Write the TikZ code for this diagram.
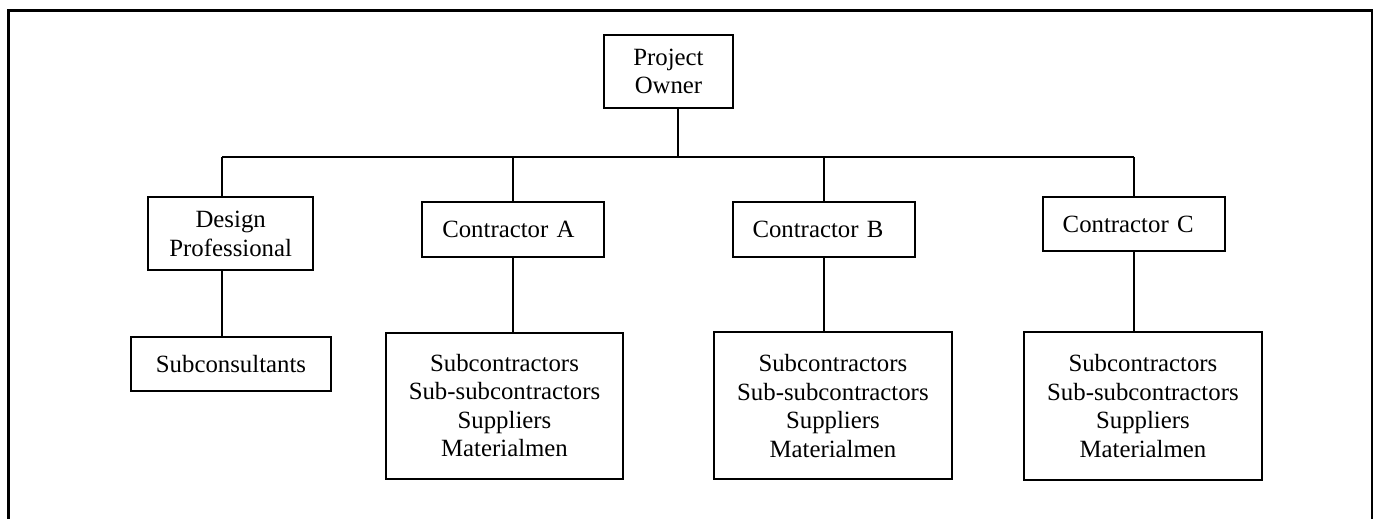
\documentclass[tikz,border=0pt]{standalone}
\usepackage{fontspec}
\setmainfont{Liberation Serif}
\begin{document}
\begin{tikzpicture}[x=1pt,y=-1pt,
  box/.style={draw, line width=2pt, inner sep=0pt, align=center,
    font=\fontsize{24.8}{28.5}\selectfont},
  firm/.style={box, text width=142pt, inner xsep=20pt, align=left},
  wire/.style={line width=2pt}]
\useasboundingbox (0,0) rectangle (1376,519);

% page frame, open at the bottom
\draw[line width=3pt] (8.5,519) -- (8.5,10.5) -- (1373,10.5);
\draw[line width=2pt] (1372,10.5) -- (1372,519);

% organisation boxes
\node[box, minimum width=129pt, minimum height=73pt] (owner) at (668.5,71.5) {Project\\Owner};
\node[box, minimum width=165pt, minimum height=73pt] (design) at (230.7,233.7) {Design\\Professional};
\node[box, minimum width=200.6pt, minimum height=54.3pt] (subcons) at (231,364) {Subconsultants};
\node[firm, minimum height=54.7pt] (cA) at (513.3,229.7) {Contractor A};
\node[firm, minimum height=54.7pt] (cB) at (823.5,229.7) {Contractor B};
\node[firm, minimum height=53.7pt] (cC) at (1133.7,224.2) {Contractor C};
\node[box, minimum width=237pt, minimum height=146pt] (subA) at (504.5,405.5)
  {Subcontractors\\Sub-subcontractors\\Suppliers\\Materialmen};
\node[box, minimum width=237.7pt, minimum height=147pt] (subB) at (832.9,405.8)
  {Subcontractors\\Sub-subcontractors\\Suppliers\\Materialmen};
\node[box, minimum width=237.7pt, minimum height=147.7pt] (subC) at (1142.9,406.2)
  {Subcontractors\\Sub-subcontractors\\Suppliers\\Materialmen};

% bus line and drops
\coordinate (busL) at (222,157);
\coordinate (busR) at (1134,157);
\coordinate (busT) at (678,157);
\draw[wire] (busT |- owner.south) -- (busT);
\draw[wire] (busL) -- (busR);
\draw[wire] (busL) -- (busL |- design.north);
\draw[wire] (busL |- design.south) -- (busL |- subcons.north);
\draw[wire] (cA.north |- busL) -- (cA.north);
\draw[wire] (cA.south) -- (cA.south |- subA.north);
\draw[wire] (cB.north |- busL) -- (cB.north);
\draw[wire] (cB.south) -- (cB.south |- subB.north);
\draw[wire] (busR) -- (busR |- cC.north);
\draw[wire] (busR |- cC.south) -- (busR |- subC.north);
\end{tikzpicture}
\end{document}
